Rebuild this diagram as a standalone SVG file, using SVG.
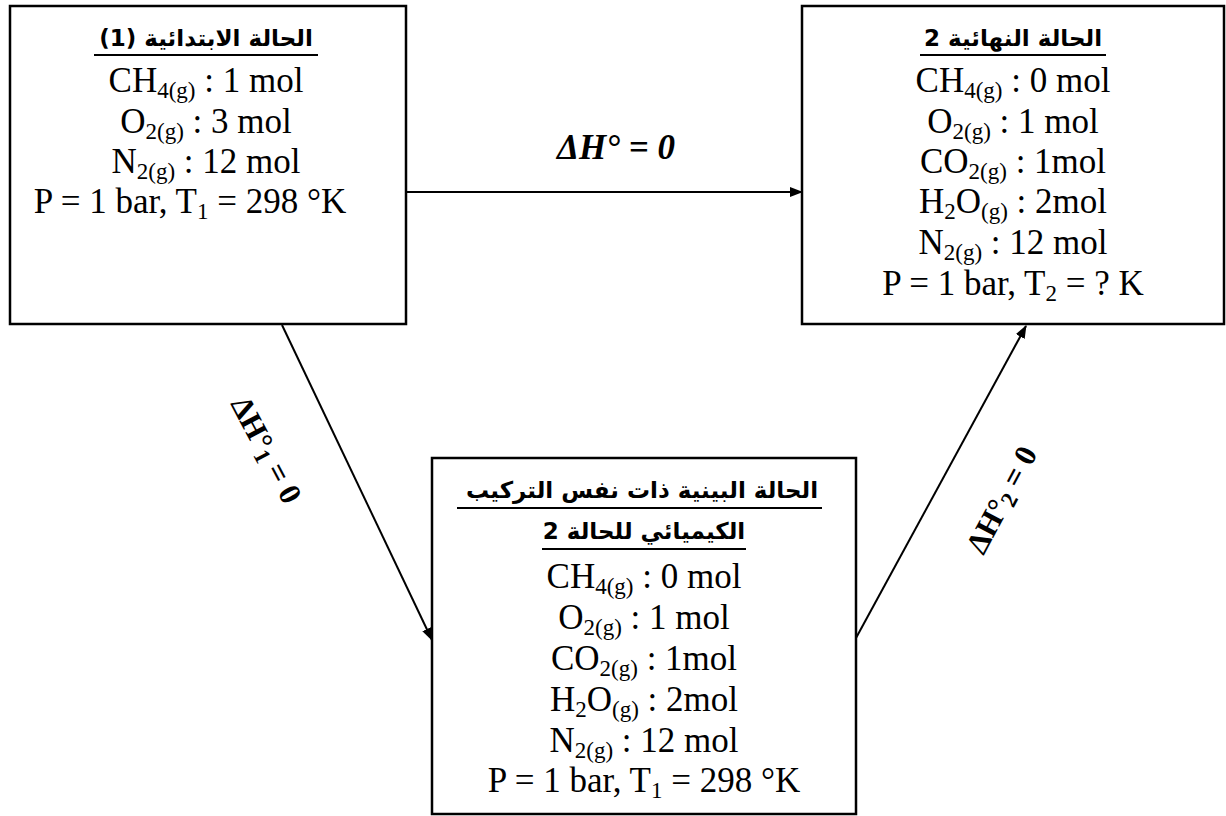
<svg xmlns="http://www.w3.org/2000/svg" width="1226" height="816" viewBox="0 0 1226 816">
<defs>
<marker id="ah" markerWidth="13" markerHeight="10" refX="12" refY="5" orient="auto" markerUnits="userSpaceOnUse">
<path d="M0,0 L13,5 L0,10 Z" fill="#000"/>
</marker>
<style>
.box{fill:#fff;stroke:#000;stroke-width:2.5}
.t{font-family:"Liberation Serif","Times New Roman",serif;font-size:35px;fill:#000;text-anchor:middle}
.s{font-size:23px}
.ar{font-family:"DejaVu Sans","Noto Sans",sans-serif;font-weight:bold;font-size:23px;fill:#000;text-anchor:middle}
.ul{stroke:#000;stroke-width:2.2}
.lbl{font-family:"Liberation Serif","Times New Roman",serif;font-weight:bold;font-size:31px;fill:#000;text-anchor:middle}
.big{font-size:35px;font-style:italic}
.c{stroke:#000;stroke-width:2;fill:none}
</style>
</defs>
<rect width="1226" height="816" fill="#fff"/>
<g id="connectors">
<line class="c" x1="406" y1="192" x2="802" y2="192" marker-end="url(#ah)"/>
<line class="c" x1="282" y1="325" x2="432" y2="640" marker-end="url(#ah)"/>
<line class="c" x1="856" y1="638" x2="1026" y2="326" marker-end="url(#ah)"/>
<text class="lbl big" x="616" y="159">ΔH° = 0</text>
<text class="lbl" transform="translate(266,450) rotate(62)" y="10">ΔH°<tspan class="s" dy="4">1</tspan><tspan dy="-4"> = 0</tspan></text>
<text class="lbl" transform="translate(1002,500) rotate(-62)" y="10">ΔH°<tspan class="s" dy="4">2</tspan><tspan dy="-4"> = 0</tspan></text>
</g>
<g id="node-initial">
<rect class="box" x="10" y="6" width="396" height="318"/>
<text class="ar" x="206" y="46" direction="rtl">الحالة الابتدائية (1)</text>
<line class="ul" x1="94" y1="55" x2="318" y2="55"/>
<text class="t" x="206" y="92">CH<tspan class="s" dy="6">4(g)</tspan><tspan dy="-6"> : 1 mol</tspan></text>
<text class="t" x="206" y="133">O<tspan class="s" dy="6">2(g)</tspan><tspan dy="-6"> : 3 mol</tspan></text>
<text class="t" x="206" y="173">N<tspan class="s" dy="6">2(g)</tspan><tspan dy="-6"> : 12 mol</tspan></text>
<text class="t" x="190" y="213">P = 1 bar, T<tspan class="s" dy="6">1</tspan><tspan dy="-6"> = 298 °K</tspan></text>
</g>
<g id="node-final">
<rect class="box" x="802" y="6" width="422" height="318"/>
<text class="ar" x="1013" y="46" direction="rtl">الحالة النهائية 2</text>
<line class="ul" x1="920" y1="55" x2="1106" y2="55"/>
<text class="t" x="1013" y="92">CH<tspan class="s" dy="6">4(g)</tspan><tspan dy="-6"> : 0 mol</tspan></text>
<text class="t" x="1013" y="133">O<tspan class="s" dy="6">2(g)</tspan><tspan dy="-6"> : 1 mol</tspan></text>
<text class="t" x="1013" y="173">CO<tspan class="s" dy="6">2(g)</tspan><tspan dy="-6"> : 1mol</tspan></text>
<text class="t" x="1013" y="213">H<tspan class="s" dy="6">2</tspan><tspan dy="-6">O</tspan><tspan class="s" dy="6">(g)</tspan><tspan dy="-6"> : 2mol</tspan></text>
<text class="t" x="1013" y="254">N<tspan class="s" dy="6">2(g)</tspan><tspan dy="-6"> : 12 mol</tspan></text>
<text class="t" x="1013" y="295">P = 1 bar, T<tspan class="s" dy="6">2</tspan><tspan dy="-6"> = ? K</tspan></text>
</g>
<g id="node-intermediate">
<rect class="box" x="432" y="458" width="424" height="356"/>
<text class="ar" x="642" y="498" direction="rtl">الحالة البينية ذات نفس التركيب</text>
<line class="ul" x1="457" y1="508" x2="822" y2="508"/>
<text class="ar" x="644" y="539" direction="rtl">الكيميائي للحالة 2</text>
<line class="ul" x1="542" y1="549" x2="746" y2="549"/>
<text class="t" x="644" y="588">CH<tspan class="s" dy="6">4(g)</tspan><tspan dy="-6"> : 0 mol</tspan></text>
<text class="t" x="644" y="629">O<tspan class="s" dy="6">2(g)</tspan><tspan dy="-6"> : 1 mol</tspan></text>
<text class="t" x="644" y="670">CO<tspan class="s" dy="6">2(g)</tspan><tspan dy="-6"> : 1mol</tspan></text>
<text class="t" x="644" y="711">H<tspan class="s" dy="6">2</tspan><tspan dy="-6">O</tspan><tspan class="s" dy="6">(g)</tspan><tspan dy="-6"> : 2mol</tspan></text>
<text class="t" x="644" y="752">N<tspan class="s" dy="6">2(g)</tspan><tspan dy="-6"> : 12 mol</tspan></text>
<text class="t" x="644" y="792">P = 1 bar, T<tspan class="s" dy="6">1</tspan><tspan dy="-6"> = 298 °K</tspan></text>
</g>
</svg>
